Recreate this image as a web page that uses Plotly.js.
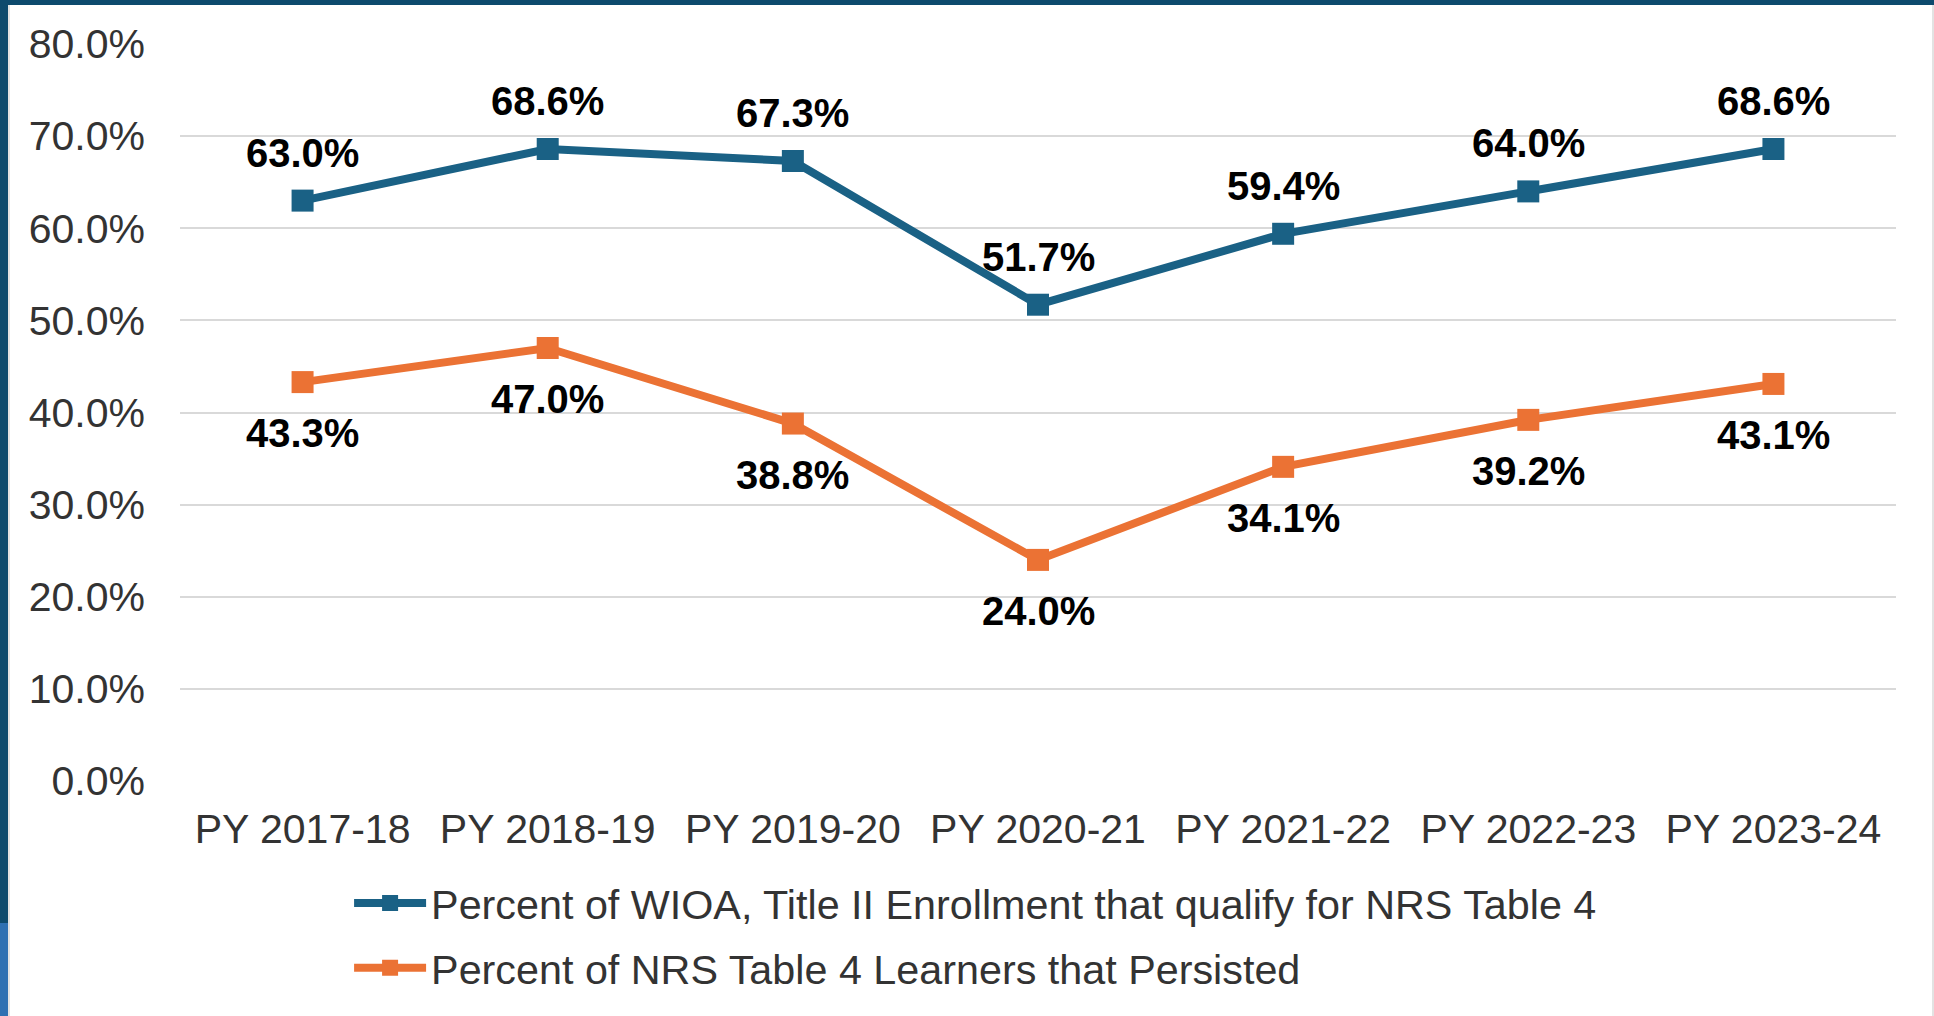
<!DOCTYPE html>
<html>
<head>
<meta charset="utf-8">
<script src="https://cdn.plot.ly/plotly-3.0.1.min.js"></script>
<style>
  html, body { margin: 0; padding: 0; background: #ffffff; }
  #wrap { position: relative; width: 1934px; height: 1016px; overflow: hidden; background: #ffffff; }
  #chart { position: absolute; left: 0; top: 0; width: 1934px; height: 1016px; }
  .bar-top { position: absolute; left: 0; top: 0; width: 1934px; height: 5px; background: #0D4A6D; }
  .bar-left { position: absolute; left: 0; top: 0; width: 8px; height: 923px; background: #0D4A6D; }
  .bar-left2 { position: absolute; left: 0; top: 923px; width: 8px; height: 93px; background: #2E70B2; }
  .edge-left { position: absolute; left: 8px; top: 5px; width: 2px; height: 1011px; background: #E3E3E3; }
  .edge-right { position: absolute; left: 1932px; top: 5px; width: 2px; height: 1011px; background: #E3E3E3; }
</style>
</head>
<body>
<div id="wrap">
  <div id="chart"></div>
  <div class="bar-top"></div>
  <div class="bar-left"></div>
  <div class="bar-left2"></div>
  <div class="edge-left"></div>
  <div class="edge-right"></div>
</div>
<script>
const categories = ["PY 2017-18", "PY 2018-19", "PY 2019-20", "PY 2020-21", "PY 2021-22", "PY 2022-23", "PY 2023-24"];
const seriesNames = [
  "Percent of WIOA, Title II Enrollment that qualify for NRS Table 4",
  "Percent of NRS Table 4 Learners that Persisted"
];
const enrollmentQualify = [63.0, 68.6, 67.3, 51.7, 59.4, 64.0, 68.6];
const learnersPersisted = [43.3, 47.0, 38.8, 24.0, 34.1, 39.2, 43.1];

const blue = "#1A6185";
const orange = "#EB7234";
const font = "Liberation Sans, Arial, sans-serif";

const traces = [
  {
    x: categories, y: enrollmentQualify, name: seriesNames[0], legendgroup: "a",
    type: "scatter", mode: "lines+markers",
    line: { color: blue, width: 8 },
    marker: { color: blue, symbol: "square", size: 22 },
    hoverinfo: "skip"
  },
  {
    x: categories, y: learnersPersisted, name: seriesNames[1], legendgroup: "b",
    type: "scatter", mode: "lines+markers",
    line: { color: orange, width: 8 },
    marker: { color: orange, symbol: "square", size: 22 },
    hoverinfo: "skip"
  }
];

const annotations = [];
categories.forEach((c, i) => {
  annotations.push({
    x: c, y: enrollmentQualify[i], xref: "x", yref: "y",
    text: enrollmentQualify[i].toFixed(1) + "%", showarrow: false,
    yshift: 48, font: { family: font, size: 40, color: "#000000", weight: "bold" }
  });
  annotations.push({
    x: c, y: learnersPersisted[i], xref: "x", yref: "y",
    text: learnersPersisted[i].toFixed(1) + "%", showarrow: false,
    yshift: -51, font: { family: font, size: 40, color: "#000000", weight: "bold" }
  });
});

const layout = {
  width: 1934, height: 1016,
  margin: { l: 180, r: 38, t: 44, b: 235, pad: 0, autoexpand: false },
  paper_bgcolor: "rgba(0,0,0,0)", plot_bgcolor: "rgba(0,0,0,0)",
  font: { family: font, size: 41, color: "#404040" },
  showlegend: true,
  legend: {
    orientation: "v", xref: "container", yref: "container",
    x: 0.1805, y: 0.144, xanchor: "left", yanchor: "top",
    font: { family: font, size: 41.3, color: "#333333" },
    bgcolor: "rgba(0,0,0,0)", traceorder: "grouped", tracegroupgap: 8, itemwidth: 72
  },
  xaxis: {
    type: "category", range: [-0.5, 6.5], showgrid: false, zeroline: false,
    showline: false, ticks: "", ticklabelstandoff: 20,
    tickfont: { family: font, size: 41, color: "#333333" }, fixedrange: true
  },
  yaxis: {
    range: [0, 80], dtick: 10, tick0: 0, tickformat: ".1f", ticksuffix: "%",
    showgrid: true, gridcolor: "#D9D9D9", gridwidth: 2, zeroline: false,
    showline: false, ticks: "", ticklabelstandoff: 34,
    tickfont: { family: font, size: 41, color: "#333333" }, fixedrange: true
  },
  annotations: annotations
};

Plotly.newPlot("chart", traces, layout, { displayModeBar: false, staticPlot: true });
</script>
</body>
</html>
